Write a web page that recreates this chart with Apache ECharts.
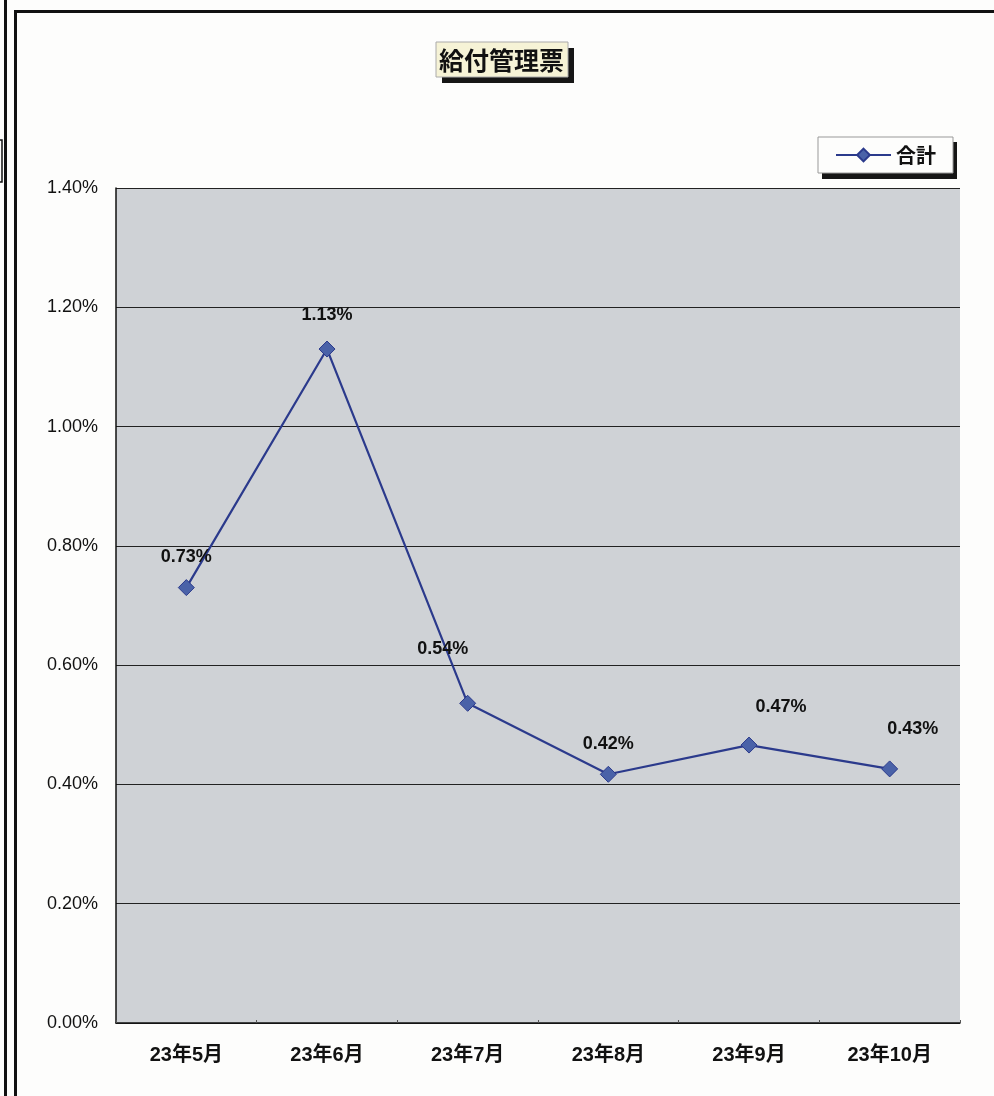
<!DOCTYPE html>
<html><head><meta charset="utf-8">
<script src="https://cdn.jsdelivr.net/npm/echarts@6/dist/echarts.min.js"></script>
<style>html,body{margin:0;padding:0;background:#fdfdfc}#c{width:994px;height:1096px}</style>
</head><body><div id="c"></div>
<script>
const titleText = '給付管理票';
const seriesName = '合計';
const categories = ['23年5月','23年6月','23年7月','23年8月','23年9月','23年10月'];
const values = [0.73, 1.13, 0.536, 0.417, 0.466, 0.426];
const yTicks = [0, 0.2, 0.4, 0.6, 0.8, 1.0, 1.2, 1.4];

// label offsets (style only)
const labelOffsets = [[0,0],[0,-4],[-25,-24],[0,0],[32,-8],[23,-9]];

const FONT = '"Liberation Sans", "Noto Sans CJK JP", sans-serif';
const chart = echarts.init(document.getElementById('c'));
chart.setOption({
  backgroundColor: '#fdfdfc',
  animation: false,
  title: {
    text: titleText, left: 439, top: 46, padding: 0, z: 10,
    textStyle: {fontFamily: '"Noto Sans CJK JP", sans-serif', fontSize: 25, fontWeight: 'bold', color: '#111', lineHeight: 28}
  },
  legend: {
    data: [seriesName], left: 835, top: 145, padding: 0, z: 10,
    itemWidth: 55, itemHeight: 16, itemGap: 4,
    textStyle: {fontFamily: '"Noto Sans CJK JP", sans-serif', fontSize: 20, fontWeight: 'bold', color: '#111'}
  },
  grid: {left: 116, top: 188, width: 844, height: 835, show: true, backgroundColor: '#cfd2d6', borderWidth: 0},
  xAxis: {
    type: 'category', data: categories, boundaryGap: true,
    axisLine: {lineStyle: {color: '#111', width: 1.5}},
    axisTick: {show: true, inside: true, length: 3, lineStyle: {color: '#555'}},
    axisLabel: {margin: 22, fontFamily: FONT, fontSize: 20, fontWeight: 'bold', color: '#111'}
  },
  yAxis: {
    type: 'value', min: yTicks[0], max: yTicks[yTicks.length-1], interval: 0.2,
    axisLine: {show: true, lineStyle: {color: '#111', width: 1.5}},
    axisTick: {show: false},
    splitLine: {lineStyle: {color: '#222', width: 1}},
    axisLabel: {margin: 18, fontFamily: FONT, fontSize: 18, color: '#111', formatter: v => v.toFixed(2) + '%'}
  },
  series: [{
    name: seriesName, type: 'line',
    data: values.map((v, i) => ({value: v, label: {offset: labelOffsets[i]}})),
    symbol: 'diamond', symbolSize: 16,
    lineStyle: {color: '#2b3a8c', width: 2.2},
    itemStyle: {color: '#4a62a8', borderColor: '#2b3a8c', borderWidth: 1},
    label: {show: true, position: 'top', distance: 13, fontFamily: FONT, fontSize: 18, fontWeight: 'bold', color: '#111',
      formatter: p => p.value.toFixed(2) + '%'}
  }],
  graphic: [
    {type: 'rect', z: 0, shape: {x: 4, y: 0, width: 3, height: 1096}, style: {fill: '#111'}, silent: true},
    {type: 'rect', z: 0, shape: {x: 14, y: 10, width: 3, height: 1086}, style: {fill: '#111'}, silent: true},
    {type: 'rect', z: 0, shape: {x: 14, y: 10, width: 980, height: 3}, style: {fill: '#111'}, silent: true},
    {type: 'rect', z: 0, shape: {x: -2, y: 140, width: 4, height: 42}, style: {fill: 'none', stroke: '#111', lineWidth: 1.5}, silent: true},
    // title box + shadow
    {type: 'rect', z: 0, shape: {x: 442, y: 48, width: 132, height: 35}, style: {fill: '#161616'}, silent: true},
    {type: 'rect', z: 1, shape: {x: 436, y: 42, width: 132, height: 35}, style: {fill: '#f6f3d6', stroke: '#aaa', lineWidth: 1}, silent: true},
    // legend box + shadow
    {type: 'rect', z: 0, shape: {x: 822, y: 142, width: 135, height: 37}, style: {fill: '#161616'}, silent: true},
    {type: 'rect', z: 1, shape: {x: 818, y: 137, width: 135, height: 36}, style: {fill: '#fdfdfc', stroke: '#999', lineWidth: 1}, silent: true}
  ]
});
</script></body></html>
